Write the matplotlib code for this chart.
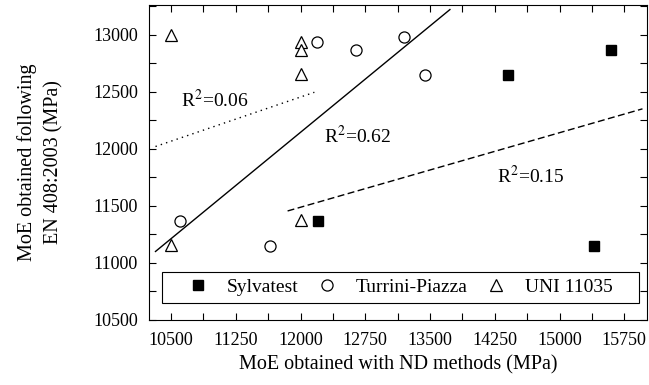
import numpy as np
import matplotlib.pyplot as plt
from matplotlib.ticker import MultipleLocator
from matplotlib.patches import Rectangle

plt.rcParams['font.family'] = ['Liberation Serif', 'DejaVu Serif']
plt.rcParams['mathtext.fontset'] = 'stix'

# Sylvatest
sylv_x = [12200, 14400, 15600, 15400]
sylv_y = [11370, 12645, 12865, 11150]
# Turrini-Piazza
turr_x = [10600, 11650, 12190, 12640, 13200, 13440]
turr_y = [11370, 11150, 12935, 12865, 12980, 12645]
# UNI 11035
uni_x = [10500, 12000, 12000, 12000, 12000, 10500]
uni_y = [13000, 12935, 12870, 12655, 11380, 11160]

# fitted lines (start, end)
fit_solid_x = [10320, 13730]
fit_solid_y = [11100, 13220]
fit_dot_x = [10320, 12160]
fit_dot_y = [12020, 12495]
fit_dash_x = [11850, 15960]
fit_dash_y = [11455, 12350]

fig = plt.figure(figsize=(6.49, 3.85), dpi=100)
ax = fig.add_axes([0.2296, 0.169, 0.767, 0.818])

ax.plot(fit_solid_x, fit_solid_y, '-', color='black', lw=1.0)
ax.plot(fit_dot_x, fit_dot_y, color='black', lw=1.0, dashes=(1, 3))
ax.plot(fit_dash_x, fit_dash_y, color='black', lw=1.0, dashes=(5, 2.5))

ax.plot(sylv_x, sylv_y, 's', color='black', ms=6.5, ls='none', label='Sylvatest')
ax.plot(turr_x, turr_y, 'o', mfc='white', mec='black', mew=0.9, ms=8, ls='none', label='Turrini-Piazza')
ax.plot(uni_x, uni_y, '^', mfc='white', mec='black', mew=0.9, ms=8.5, ls='none', label='UNI 11035')

ax.text(10620, 12430, r'R$^2$=0.06', fontsize=14, va='center')
ax.text(12275, 12115, r'R$^2$=0.62', fontsize=14, va='center')
ax.text(14275, 11765, r'R$^2$=0.15', fontsize=14, va='center')

ax.set_xlim(10245, 16010)
ax.set_ylim(10500, 13260)
ax.xaxis.set_major_locator(MultipleLocator(750))
ax.xaxis.set_minor_locator(MultipleLocator(375))
ax.yaxis.set_major_locator(MultipleLocator(500))
ax.yaxis.set_minor_locator(MultipleLocator(250))
ax.tick_params(which='both', direction='in', top=True, right=True, length=5, width=0.8, labelsize=13)
ax.tick_params(axis='x', pad=9)
ax.tick_params(axis='y', pad=8)

ax.set_xlabel('MoE obtained with ND methods (MPa)', fontsize=14.5, labelpad=4)
ax.set_ylabel('MoE obtained following\nEN 408:2003 (MPa)', fontsize=14.5, labelpad=21, linespacing=1.55)

# legend box
ax.add_patch(Rectangle((0.026, 0.054), 0.958, 0.098, transform=ax.transAxes,
                       fill=True, facecolor='white', edgecolor='black', lw=0.8, zorder=4))
leg = ax.legend(ncol=3, loc='center', bbox_to_anchor=(0.505, 0.103), fontsize=14,
                frameon=False, handletextpad=1.0, handlelength=1.0,
                columnspacing=0.95, borderpad=0.0)
leg.set_zorder(5)

fig.savefig('out.png', dpi=100)
